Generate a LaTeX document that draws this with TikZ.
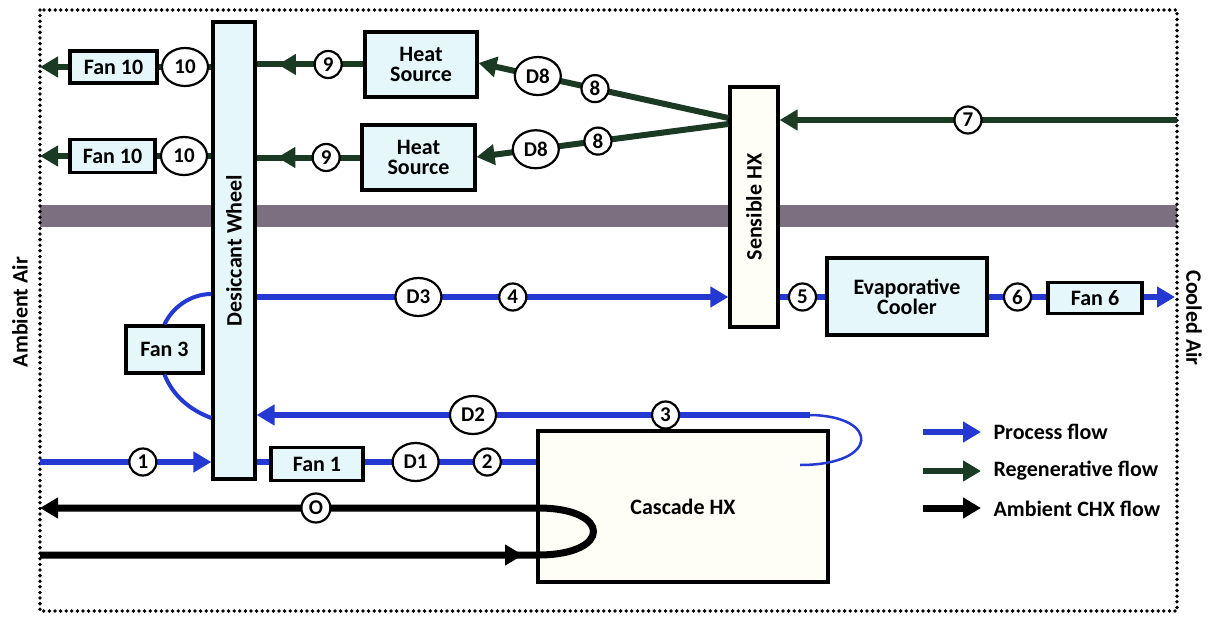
\documentclass[tikz,border=0pt]{standalone}
\usepackage{fontspec}
\setmainfont{Carlito}
\usetikzlibrary{arrows.meta,shapes.geometric,decorations.markings}
\definecolor{pblue}{RGB}{36,56,210}
\definecolor{rgreen}{RGB}{26,58,36}
\definecolor{boxfill}{RGB}{230,247,251}
\definecolor{hxfill}{RGB}{255,254,246}
\definecolor{band}{RGB}{124,112,128}
\begin{document}
\begin{tikzpicture}[x=1pt,y=-1pt,
  lab/.style={font=\fontsize{22}{23}\selectfont\bfseries},
  box/.style={draw=black, line width=3.2pt, fill=boxfill, text=black, lab, inner sep=0pt, align=center},
  num/.style={circle, draw=black, text=black, line width=2.2pt, fill=white, minimum size=27pt, inner sep=0pt, font=\fontsize{21}{21}\selectfont\bfseries},
  dnum/.style={ellipse, draw=black, text=black, line width=2.2pt, fill=white, minimum width=46pt, minimum height=38pt, inner sep=0pt, font=\fontsize{21}{21}\selectfont\bfseries},
  pflow/.style={pblue, line width=5.5pt},
  gflow/.style={rgreen, line width=6pt},
  kflow/.style={black, line width=7pt},
  tip/.style={-{Triangle[length=18pt,width=20pt]}},
  midtip/.style={postaction={decorate}, decoration={markings, mark=at position #1 with {\arrow{Triangle[length=18pt,width=20pt]}}}},
]
\useasboundingbox (0,0) rectangle (1210,618);

% frame and band
\fill[band] (40,205) rectangle (1177,227);
\draw[line width=3.8pt, dash pattern=on 0pt off 5.6pt, line cap=round] (40,10) rectangle (1177,611);

% boxes
\node[box, minimum width=42pt, minimum height=457pt] (dw) at (234,250.5) {\rotatebox{90}{Desiccant Wheel}};
\node[box, fill=hxfill, minimum width=48pt, minimum height=240pt] (hx) at (754,207) {\rotatebox{90}{Sensible HX}};
\node[box, minimum width=112pt, minimum height=65pt] (hs1) at (421,64.5) {Heat\\[-3pt]Source};
\node[box, minimum width=113pt, minimum height=65pt] (hs2) at (418.5,157.5) {Heat\\[-3pt]Source};
\node[box, minimum width=87pt, minimum height=32pt] (f10a) at (113.5,67) {Fan 10};
\node[box, minimum width=85pt, minimum height=33pt] (f10b) at (112.5,156) {Fan 10};
\node[box, minimum width=160pt, minimum height=77pt] (ec) at (907,296.5) {Evaporative\\[-3pt]Cooler};
\node[box, minimum width=94pt, minimum height=31pt] (f6) at (1095,298) {Fan 6};
\node[box, minimum width=77pt, minimum height=47pt] (f3) at (164.5,349.5) {Fan 3};
\node[box, minimum width=92pt, minimum height=33pt] (f1) at (317,464) {Fan 1};
\node[box, fill=hxfill, minimum width=290pt, minimum height=151pt] (ch) at (683,506.5) {Cascade HX};

% free ends
\coordinate (L10a) at (40,67);
\coordinate (L10b) at (40,156);
\coordinate (R7) at (1177,120);
\coordinate (R6) at (1175,297);
\coordinate (L1) at (40,462);
\coordinate (Kin) at (40,555);
\coordinate (Kout) at (40,508);

% regenerative flow
\draw[gflow, midtip=0.8] (hs1.west) -- node[num, pos=0.33] {9} (dw.east |- hs1.west);
\draw[gflow, midtip=0.8] (hs2.west) -- node[num, pos=0.33] {9} (dw.east |- hs2.west);
\draw[gflow] (dw.west |- f10a.east) -- node[dnum] {10} (f10a.east);
\draw[gflow] (dw.west |- f10b.east) -- node[dnum] {10} (f10b.east);
\draw[gflow, tip] (f10a.west) -- (L10a);
\draw[gflow, tip] (f10b.west) -- (L10b);
\draw[gflow, tip] (hx.west |- 0,118) -- node[num, pos=0.534] {8} node[dnum, pos=0.763] {D8} (hs1.east |- 0,63);
\draw[gflow, tip] (hx.west |- 0,124) -- node[num, pos=0.518] {8} node[dnum, pos=0.765] {D8} (hs2.east |- 0,157);
\draw[gflow, tip] (R7) -- node[num, pos=0.526] {7} (hx.east |- R7);

% process flow
\draw[pflow, tip] (dw.east |- 0,297) -- node[dnum, pos=0.343] {D3} node[num, pos=0.543] {4} (hx.west |- 0,297);
\draw[pflow] (hx.east |- 0,297) -- node[num] {5} (ec.west |- 0,297);
\draw[pflow] (ec.east |- 0,297) -- node[num] {6} (f6.west |- 0,297);
\draw[pflow, tip] (f6.east |- R6) -- (R6);
\draw[pblue, line width=4pt] (dw.west |- 0,294) .. controls (190,294) and (172,308) .. (f3.north);
\draw[pblue, line width=4pt] (f3.south) .. controls (173,396) and (190,410) .. (dw.west |- 0,418);
\coordinate (P3) at (810,415);
\draw[pflow, tip] (P3) -- node[num, pos=0.261] {3} node[dnum, pos=0.609] {D2} (dw.east |- P3);
\coordinate (P3b) at (800,465);
\draw[pblue, line width=2.5pt] (P3) .. controls (880,416) and (880,465) .. (P3b);
\draw[pflow, tip] (L1) -- node[num, pos=0.6] {1} (dw.west |- L1);
\draw[pflow] (dw.east |- L1) -- (f1.west |- L1);
\draw[pflow] (f1.east |- L1) -- node[dnum, pos=0.297] {D1} node[num, pos=0.714] {2} (ch.west |- L1);

% ambient CHX flow
\draw[kflow, tip, midtip=483pt] (Kin) -- (538,555) .. controls (612,555) and (612,508) .. (538,508) -- node[num, pos=0.446, minimum size=29pt] {O} (Kout);

% legend
\coordinate (lg1a) at (923,432); \coordinate (lg1b) at (981,432);
\coordinate (lg2a) at (923,471); \coordinate (lg2b) at (981,471);
\coordinate (lg3a) at (923,508); \coordinate (lg3b) at (981,508);
\draw[pflow, tip] (lg1a) -- (lg1b);
\draw[gflow, tip] (lg2a) -- (lg2b);
\draw[kflow, tip] (lg3a) -- (lg3b);
\node[lab, anchor=west] (lt1) at (990,432) {Process flow};
\node[lab, anchor=west] (lt2) at (990,471) {Regenerative flow};
\node[lab, anchor=west] (lt3) at (990,509) {Ambient CHX flow};

% side labels
\node[lab, rotate=90] (amb) at (20,312) {Ambient Air};
\node[lab, rotate=-90] (cool) at (1194,318) {Cooled Air};
\end{tikzpicture}
\end{document}
